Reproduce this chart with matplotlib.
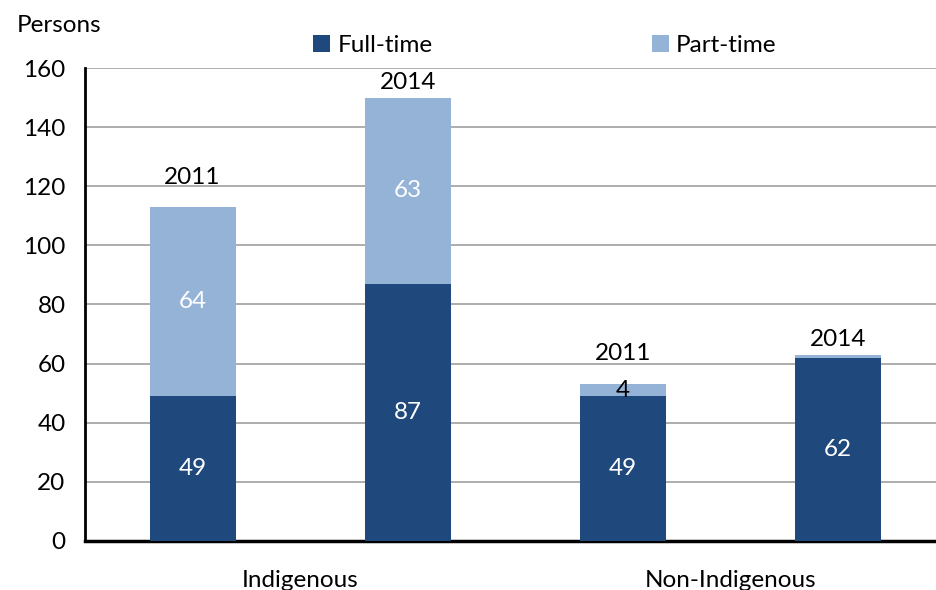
import matplotlib.pyplot as plt

plt.rcParams['font.family'] = ['Lato', 'DejaVu Sans']

groups = ["Indigenous", "Non-Indigenous"]
years = ["2011", "2014", "2011", "2014"]
full_time = [49, 87, 49, 62]
part_time = [64, 63, 4, 1]
full_labels = ["49", "87", "49", "62"]
part_labels = ["64", "63", "4", ""]

FULL_COLOR = '#1f497d'
PART_COLOR = '#95b3d7'
FS = 17.5

# gap between bar top and its year label, in data units
year_gap = [6.5, 1.5, 7.0, 1.5]

fig = plt.figure(figsize=(9.36, 5.9), dpi=100)
ax = fig.add_axes([0.0908, 0.0831, 0.9092, 0.8016])

x = list(range(len(years)))
ax.bar(x, full_time, width=0.4, color=FULL_COLOR, label="Full-time", zorder=3)
ax.bar(x, part_time, width=0.4, bottom=full_time, color=PART_COLOR, label="Part-time", zorder=3)

for i in x:
    total = full_time[i] + part_time[i]
    ax.text(i, total + year_gap[i], years[i], ha='center', va='bottom', fontsize=FS)
    ax.text(i, full_time[i] / 2, full_labels[i], ha='center', va='center',
            fontsize=FS, color='white', zorder=4)
    if part_labels[i]:
        small = part_time[i] < 10
        y = full_time[i] + part_time[i] / 2
        ax.text(i, y, part_labels[i], ha='center', va='center', fontsize=FS,
                color='black' if small else 'white', zorder=4)

ax.set_xlim(-0.5, 3.455)
ax.set_ylim(0, 160)
ax.set_yticks(range(0, 161, 20))
ax.set_xticks([])
ax.tick_params(axis='y', length=0, labelsize=FS, pad=14)
ax.grid(axis='y', color='#a0a0a0', linewidth=1.2, zorder=0)
for side in ['top', 'right']:
    ax.spines[side].set_visible(False)
ax.spines['left'].set_linewidth(2)
ax.spines['bottom'].set_linewidth(2.5)

# group labels
for j, name in enumerate(groups):
    ax.text(2 * j + 0.5, -13.5, name, ha='center', va='center', fontsize=FS)

fig.text(0.018, 0.957, "Persons", ha='left', va='center', fontsize=FS)

ax.legend(loc='center left', bbox_to_anchor=(0.257, 1.047), ncol=2, frameon=False,
          fontsize=FS, handlelength=0.7, handleheight=0.7, handletextpad=0.3,
          columnspacing=9.0, borderaxespad=0)

fig.savefig("out.png", dpi=100)
plt.close(fig)
